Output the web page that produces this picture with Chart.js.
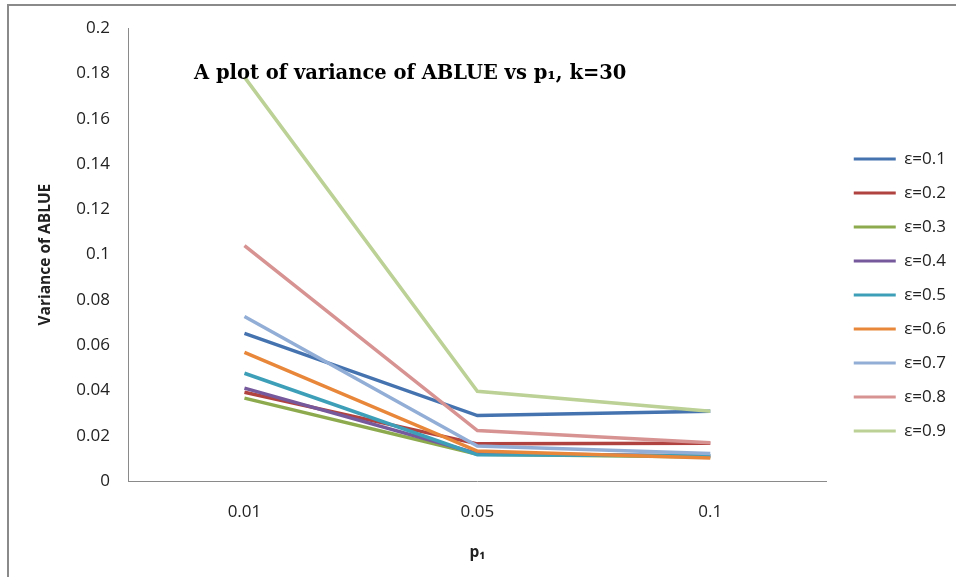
<!DOCTYPE html>
<html>
<head>
<meta charset="utf-8">
<script src="https://cdn.jsdelivr.net/npm/chart.js@4.4.0/dist/chart.umd.min.js"></script>
<style>
  body { margin: 0; background: #fff; }
  #frame {
    position: absolute; left: 7px; top: 4px; width: 960px; height: 580px;
    border-left: 2px solid #8a8a8a; border-top: 2px solid #8a8a8a;
  }
  #wrap { position: absolute; left: 0; top: 0; width: 956px; height: 577px; }
</style>
</head>
<body>
<div id="frame"></div>
<div id="wrap"><canvas id="varChart" width="956" height="577"></canvas></div>
<script>
// p1 values on the x axis
const p1Labels = ["0.01", "0.05", "0.1"];

// variance of ABLUE for each epsilon, k=30
const eps01 = [0.0652, 0.0289, 0.0308];
const eps02 = [0.0392, 0.0164, 0.0167];
const eps03 = [0.0366, 0.0118, 0.0106];
const eps04 = [0.0410, 0.0122, 0.0110];
const eps05 = [0.0476, 0.0116, 0.0112];
const eps06 = [0.0568, 0.0132, 0.0102];
const eps07 = [0.0727, 0.0155, 0.0122];
const eps08 = [0.1040, 0.0223, 0.0169];
const eps09 = [0.1784, 0.0396, 0.0308];

const seriesNames = ["ε=0.1", "ε=0.2", "ε=0.3", "ε=0.4", "ε=0.5", "ε=0.6", "ε=0.7", "ε=0.8", "ε=0.9"];
const seriesData = [eps01, eps02, eps03, eps04, eps05, eps06, eps07, eps08, eps09];
const seriesColors = ["#4573B0", "#B0423F", "#8DAB4E", "#76599C", "#3E9FB8", "#E8873A", "#93AED6", "#D79392", "#BBD195"];

const datasets = seriesData.map((vals, i) => ({
  label: seriesNames[i],
  data: vals,
  borderColor: seriesColors[i],
  backgroundColor: seriesColors[i],
  borderWidth: 3.5,
  pointRadius: 0,
  tension: 0,
  order: seriesData.length - i, // later series drawn on top
}));

const tickFont = { family: "'Open Sans'", size: 17 };
const axisTitleFont = { family: "'Open Sans'", size: 15.5, weight: "bold" };

// chart title sits inside the plot area
const innerTitle = {
  id: "innerTitle",
  afterDraw(chart) {
    const ctx = chart.ctx;
    ctx.save();
    ctx.fillStyle = "#000";
    ctx.font = "bold 19.5px 'DejaVu Serif'";
    ctx.textBaseline = "alphabetic";
    ctx.textAlign = "left";
    ctx.fillText("A plot of variance of ABLUE vs p\u2081, k=30", 194, 79);
    ctx.restore();
  }
};

// nudge the legend right and down without touching the plot area
const legendShift = {
  id: "legendShift",
  afterLayout(chart) {
    chart.legend.left += 10;
    chart.legend.right += 10;
    chart.legend.top += 8;
    chart.legend.bottom += 8;
  }
};

const varConfig = {
  type: "line",
  data: { labels: p1Labels, datasets: datasets },
  options: {
    responsive: false,
    animation: false,
    layout: { padding: { left: 36, top: 12, right: 10, bottom: 15 } },
    plugins: {
      tooltip: { enabled: false },
      legend: {
        position: "right",
        align: "center",
        labels: {
          boxWidth: 42,
          boxHeight: 3,
          padding: 17,
          color: "#222",
          font: tickFont,
          sort: (a, b) => a.datasetIndex - b.datasetIndex,
          generateLabels: (chart) =>
            Chart.defaults.plugins.legend.labels.generateLabels(chart)
              .map((l) => Object.assign(l, { lineWidth: 0 })),
        },
      },
    },
    scales: {
      x: {
        offset: true,
        grid: { display: false, drawTicks: false },
        border: { color: "#8a8a8a", width: 1 },
        ticks: { color: "#222", padding: 21, font: tickFont },
        title: {
          display: true,
          text: "p\u2081",
          color: "#222",
          padding: { top: 0, bottom: 0 },
          font: axisTitleFont,
        },
      },
      y: {
        min: 0,
        max: 0.2,
        grid: { display: false, drawTicks: false },
        border: { color: "#8a8a8a", width: 1 },
        ticks: {
          stepSize: 0.02,
          color: "#222",
          padding: 18,
          font: tickFont,
          callback: (v) => String(parseFloat(v.toFixed(2))),
        },
        title: {
          display: true,
          text: "Variance of ABLUE",
          color: "#222",
          padding: { top: 0, bottom: 4 },
          font: axisTitleFont,
        },
        afterFit: (axis) => { axis.width = 92; },
      },
    },
  },
  plugins: [innerTitle, legendShift],
};

const varChart = new Chart(document.getElementById("varChart"), varConfig);
</script>
</body>
</html>
